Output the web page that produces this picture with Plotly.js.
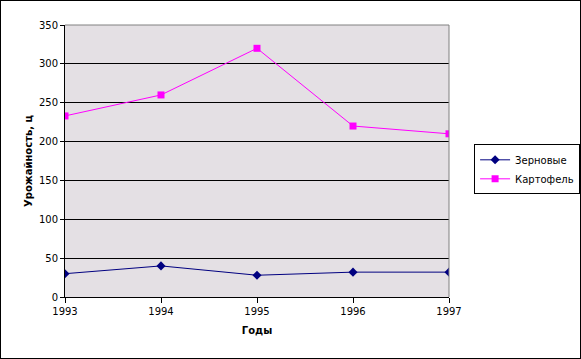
<!DOCTYPE html>
<html>
<head>
<meta charset="utf-8">
<script src="https://cdn.plot.ly/plotly-3.0.1.min.js"></script>
<style>
html,body{margin:0;padding:0;background:#fff;}
#chart{width:581px;height:359px;}
#frame{position:absolute;left:0;top:0;width:581px;height:359px;box-sizing:border-box;border:1px solid #000;pointer-events:none;}
</style>
</head>
<body>
<div id="chart"></div>
<div id="frame"></div>
<script>
const years = [1993, 1994, 1995, 1996, 1997];
const grain = [30, 40, 28, 32, 32];
const potato = [233, 260, 320, 220, 210];
const seriesNames = ['Зерновые', 'Картофель'];
const xTitle = 'Годы';
const yTitle = 'Урожайность, ц';

const font = {family: 'DejaVu Sans, Verdana, sans-serif', size: 10, color: '#000'};

const traces = [
  {x: years, y: grain, name: seriesNames[0], type: 'scatter', mode: 'lines+markers',
   line: {color: '#000080', width: 1}, marker: {symbol: 'diamond', size: 7, color: '#000080'}},
  {x: years, y: potato, name: seriesNames[1], type: 'scatter', mode: 'lines+markers',
   line: {color: '#FF00FF', width: 1}, marker: {symbol: 'square', size: 7, color: '#FF00FF'}}
];

const layout = {
  width: 581, height: 359,
  margin: {l: 65, r: 132, t: 25, b: 62, autoexpand: false},
  paper_bgcolor: '#fff',
  plot_bgcolor: '#E4E0E4',
  font: font,
  showlegend: true,
  legend: {xref: 'container', yref: 'container', x: 0.816, y: 0.598, xanchor: 'left', yanchor: 'top', bgcolor: '#fff',
           bordercolor: '#000', borderwidth: 1, font: {family: font.family, size: 10, color: '#000'},
           tracegroupgap: 0, itemwidth: 30},
  xaxis: {range: [1993, 1997], tickvals: years, ticktext: years.map(String), automargin: false,
          showgrid: false, zeroline: false, showline: true, linecolor: '#000', linewidth: 1,
          ticks: 'outside', ticklen: 5, tickcolor: '#000',
          title: {text: xTitle, font: {family: font.family, size: 10, color: '#000', weight: 'bold'}, standoff: 10},
          tickfont: font},
  yaxis: {range: [0, 350], dtick: 50, tick0: 0, automargin: false,
          showgrid: true, gridcolor: '#000', gridwidth: 1, zeroline: false,
          showline: true, linecolor: '#000', linewidth: 1,
          ticks: 'outside', ticklen: 4, tickcolor: '#000',
          title: {text: yTitle, font: {family: font.family, size: 10, color: '#000', weight: 'bold'}, standoff: 4},
          tickfont: font},
  shapes: [
    {type: 'line', xref: 'paper', yref: 'paper', x0: 0, x1: 1, y0: 1, y1: 1, line: {color: '#808080', width: 1}},
    {type: 'line', xref: 'paper', yref: 'paper', x0: 1, x1: 1, y0: 0, y1: 1, line: {color: '#808080', width: 1}}
  ]
};

Plotly.newPlot('chart', traces, layout, {displayModeBar: false, staticPlot: true});
</script>
</body>
</html>
